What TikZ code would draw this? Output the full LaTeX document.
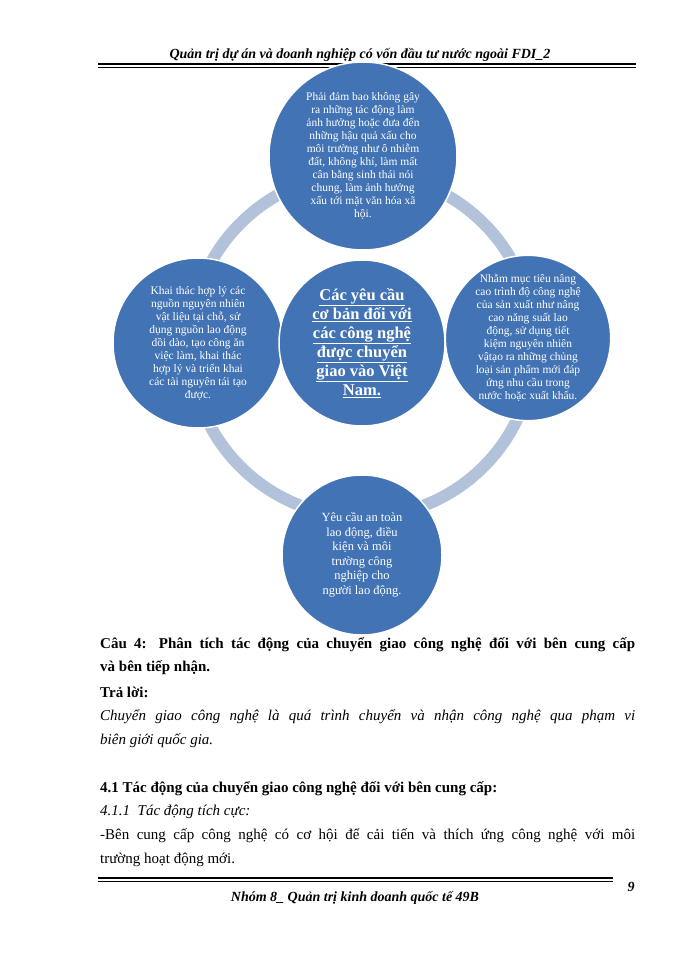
\documentclass[tikz,border=0pt]{standalone}
\usepackage{fontspec}
\setmainfont{Liberation Serif}
\newcommand{\ul}[1]{\underline{#1}}
\begin{document}
\begin{tikzpicture}[x=1pt,y=-1pt,
  bub/.style={circle,fill=cblue,draw=white,line width=1.5pt,text=white,align=center,inner sep=0pt,font=\fontsize{11.5}{13}\selectfont},
  body/.style={anchor=west,inner sep=0pt,font=\fontsize{15}{18}\selectfont}]
\definecolor{cblue}{HTML}{4273B4}
\definecolor{cring}{HTML}{B3C2DB}
\useasboundingbox (0,0) rectangle (700,960);
\fill[white] (0,0) rectangle (700,960);
\node[anchor=base,font=\fontsize{14}{16}\selectfont\bfseries\itshape] (hdr) at (360,59) {Quản trị dự án và doanh nghiệp có vốn đầu tư nước ngoài FDI\_2};
\draw[line width=1.2pt] (98,64) -- (636,64);
\draw[line width=0.5pt] (98,67) -- (636,67);
\draw[cring,line width=12pt] (362,345) circle (172);
\node[bub,minimum size=188pt] (top) at (363,156) {Phải đảm bao không gây\\ra những tác động làm\\ảnh hưởng hoặc đưa đến\\những hậu quả xấu cho\\môi trường như ô nhiễm\\đất, không khí, làm mất\\cân bằng sinh thái nói\\chung, làm ảnh hưởng\\xấu tới mặt văn hóa xã\\hội.};
\node[bub,minimum size=162pt] (right) at (528,338) {Nhằm mục tiêu nâng\\cao trình độ công nghệ\\của sản xuất như nâng\\cao năng suất lao\\động, sử dụng tiết\\kiệm nguyên nhiên\\vậtạo ra những chủng\\loại sản phẩm mới đáp\\ứng nhu cầu trong\\nước hoặc xuất khẩu.};
\node[bub,minimum size=170pt] (left) at (198,343) {Khai thác hợp lý các\\nguồn nguyên nhiên\\vật liệu tại chỗ, sử\\dụng nguồn lao động\\dồi dào, tạo công ăn\\việc làm, khai thác\\hợp lý và triển khai\\các tài nguyên tái tạo\\được.};
\node[bub,minimum size=166pt,font=\fontsize{16.5}{19}\selectfont\bfseries] (ctr) at (362,343) {\ul{Các yêu cầu}\\\ul{cơ bản đối với}\\\ul{các công nghệ}\\\ul{được chuyển}\\\ul{giao vào Việt}\\\ul{Nam.}};
\node[bub,minimum size=160pt,font=\fontsize{12.5}{14.5}\selectfont] (bot) at (362,555) {Yêu cầu an toàn\\lao động, điều\\kiện và môi\\trường công\\nghiệp cho\\người lao động.};
\node[body,font=\fontsize{15}{18}\selectfont\bfseries] (l1) at (100,645) {\makebox[535pt][s]{Câu 4: Phân tích tác động của chuyển giao công nghệ đối với bên cung cấp}};
\node[body,font=\fontsize{15}{18}\selectfont\bfseries] (l2) at (100,668) {và bên tiếp nhận.};
\node[body,font=\fontsize{15}{18}\selectfont\bfseries] (l3) at (100,692) {Trả lời:};
\node[body,font=\fontsize{15}{18}\selectfont\itshape] (l4) at (100,717) {\makebox[535pt][s]{Chuyển giao công nghệ là quá trình chuyển và nhận công nghệ qua phạm vi}};
\node[body,font=\fontsize{15}{18}\selectfont\itshape] (l5) at (100,741) {biên giới quốc gia.};
\node[body,font=\fontsize{15}{18}\selectfont\bfseries] (l6) at (100,789) {4.1 Tác động của chuyển giao công nghệ đối với bên cung cấp:};
\node[body,font=\fontsize{15}{18}\selectfont\itshape] (l7) at (100,812) {4.1.1\ \ Tác động tích cực:};
\node[body] (l8) at (100,836) {\makebox[535pt][s]{-Bên cung cấp công nghệ có cơ hội để cải tiến và thích ứng công nghệ với môi}};
\node[body] (l9) at (100,860) {trường hoạt động mới.};
\draw[line width=1.2pt] (98,878) -- (613,878);
\draw[line width=0.5pt] (98,881) -- (613,881);
\node[anchor=base,font=\fontsize{14}{16}\selectfont\bfseries\itshape] (ftr) at (355,901) {Nhóm 8\_ Quản trị kinh doanh quốc tế 49B};
\node[anchor=base,font=\fontsize{14}{16}\selectfont\bfseries\itshape] (pg) at (631,891) {9};
\end{tikzpicture}
\end{document}
